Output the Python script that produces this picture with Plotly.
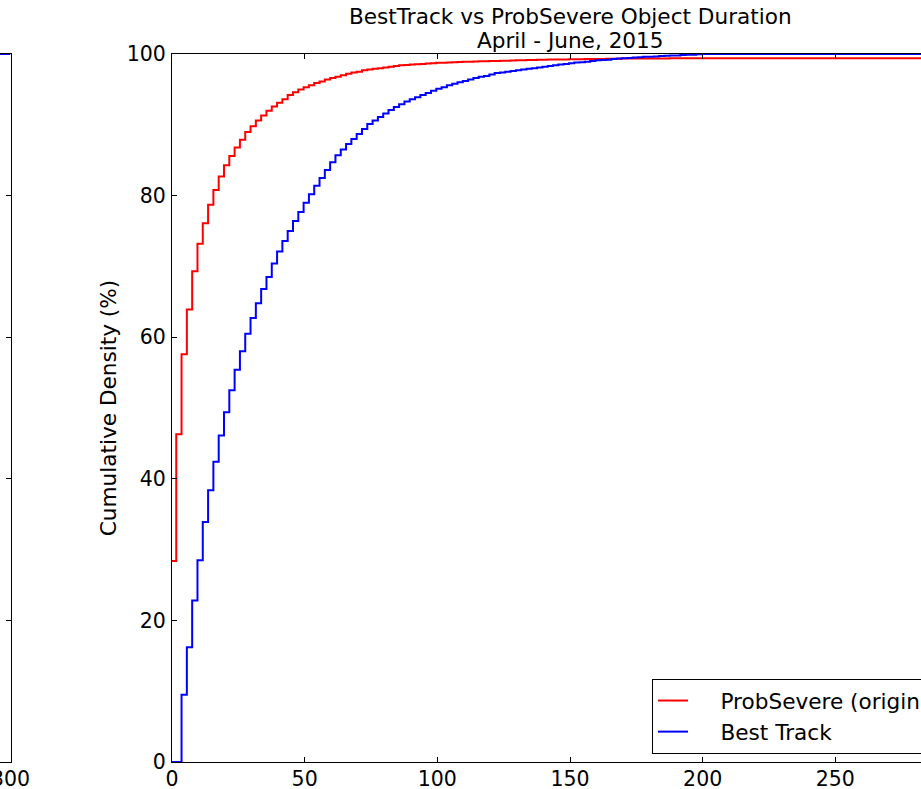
import plotly.graph_objects as go

# ---- data ----
step_x = [round(1.6 + 2 * k, 1) for k in range(100)]  # step positions (duration, min)

probsevere_start = 28.4
probsevere_y = [
    46.3, 57.6, 63.9, 69.3, 73.2, 76.1, 78.7, 80.8, 82.7, 84.3,
    85.6, 86.8, 87.9, 89.0, 89.8, 90.6, 91.3, 92.0, 92.6, 93.1,
    93.6, 94.2, 94.6, 95.0, 95.3, 95.6, 95.9, 96.1, 96.4, 96.6,
    96.8, 97.0, 97.2, 97.4, 97.5, 97.7, 97.8, 97.9, 98.0, 98.1,
    98.2, 98.3, 98.4, 98.45, 98.5, 98.55, 98.6, 98.65, 98.7, 98.75,
    98.78, 98.81, 98.84, 98.87, 98.9, 98.92, 98.94, 98.96, 98.98, 99.0,
    99.02, 99.04, 99.06, 99.08, 99.1, 99.12, 99.14, 99.16, 99.18, 99.2,
    99.21, 99.22, 99.23, 99.24, 99.25, 99.26, 99.27, 99.28, 99.29, 99.3,
    99.31, 99.32, 99.33, 99.34, 99.35, 99.35, 99.36, 99.36, 99.37, 99.37,
    99.38, 99.38, 99.38, 99.39, 99.39, 99.39, 99.4, 99.4, 99.4, 99.4,
]

besttrack_start = 0.0
besttrack_y = [
    0.0, 9.5, 16.2, 22.8, 28.5, 33.9, 38.4, 42.4, 46.1, 49.4,
    52.5, 55.4, 58.0, 60.5, 62.7, 64.8, 66.8, 68.5, 70.4, 72.1,
    73.6, 75.0, 76.4, 77.7, 79.0, 80.2, 81.4, 82.5, 83.6, 84.7,
    85.7, 86.5, 87.3, 88.0, 88.7, 89.4, 90.1, 90.6, 91.1, 91.6,
    92.1, 92.5, 92.9, 93.3, 93.6, 93.9, 94.2, 94.5, 94.8, 95.1,
    95.3, 95.6, 95.8, 96.0, 96.2, 96.4, 96.6, 96.8, 96.9, 97.1,
    97.3, 97.4, 97.5, 97.6, 97.7, 97.8, 97.9, 98.0, 98.1, 98.2,
    98.3, 98.4, 98.5, 98.6, 98.7, 98.8, 98.85, 98.9, 99.0, 99.1,
    99.15, 99.2, 99.3, 99.35, 99.4, 99.45, 99.5, 99.55, 99.6, 99.6,
    99.65, 99.7, 99.75, 99.8, 99.8, 99.85, 99.9, 99.9, 99.95, 100.0,
]

x_min, x_max = 0, 300
x_ticks = [0, 50, 100, 150, 200, 250, 300]
y_ticks = [0, 20, 40, 60, 80, 100]
title_lines = ["BestTrack vs ProbSevere Object Duration", "April - June, 2015"]
legend_names = ["ProbSevere (original)", "Best Track"]

# ---- layout geometry ----
W, H = 921, 789
left_px, top_px, bottom_px = 172, 54, 762
plot_h = bottom_px - top_px
px_per_unit = (968 - left_px) / (x_max - x_min)
x_view_max = (W - left_px) / px_per_unit

FONT = "DejaVu Sans"
TICK_SIZE = 20.5
TEXT_SIZE = 21.6
PAD = "\u00a0" * 4  # gap between legend line sample and its text

fig = go.Figure()

fx = [x_min] + step_x + [x_max]
fig.add_trace(go.Scatter(
    x=fx, y=[probsevere_start] + probsevere_y + [probsevere_y[-1]],
    mode="lines", line=dict(color="#ff0000", width=2, shape="hv"),
    name=PAD + legend_names[0], xaxis="x", yaxis="y"))
fig.add_trace(go.Scatter(
    x=fx, y=[besttrack_start] + besttrack_y + [besttrack_y[-1]],
    mode="lines", line=dict(color="#0000ff", width=2, shape="hv"),
    name=PAD + legend_names[1], xaxis="x", yaxis="y"))

# fragment of the neighbouring panel at the far left
fig.add_trace(go.Scatter(
    x=[290, 300], y=[100, 100], mode="lines",
    line=dict(color="#0000ff", width=2), showlegend=False,
    xaxis="x2", yaxis="y2", hoverinfo="skip"))

axis_common = dict(
    showline=True, linecolor="black", linewidth=1,
    ticks="inside", ticklen=5, tickcolor="black", tickwidth=1,
    showgrid=False, zeroline=False, automargin=False,
    tickfont=dict(family=FONT, size=TICK_SIZE, color="black"),
)

annotations = []
for line, y_px in zip(title_lines, [16, 41]):
    annotations.append(dict(
        text=line, xref="paper", yref="paper",
        x=570 / W, y=(bottom_px - y_px) / plot_h,
        xanchor="center", yanchor="middle", showarrow=False,
        font=dict(family=FONT, size=TEXT_SIZE, color="black")))

fig.update_layout(
    width=W, height=H,
    margin=dict(l=0, r=0, t=top_px, b=H - bottom_px, pad=0, autoexpand=False),
    paper_bgcolor="white", plot_bgcolor="white",
    font=dict(family=FONT, size=TEXT_SIZE, color="black"),
    xaxis=dict(domain=[left_px / W, 1], range=[x_min, x_view_max],
               tickvals=x_ticks, mirror="ticks", ticklabelstandoff=-2,
               **axis_common),
    yaxis=dict(domain=[0, 1], range=[0, 100], tickvals=y_ticks,
               mirror=False, ticklabelstandoff=1,
               title=dict(text="Cumulative Density (%)",
                          font=dict(family=FONT, size=TEXT_SIZE, color="black"),
                          standoff=4),
               **axis_common),
    xaxis2=dict(domain=[0, 10.5 / W], range=[300 - 10.5 / px_per_unit, 300.02],
                tickvals=x_ticks, mirror="ticks", anchor="y2",
                ticklabelstandoff=-2, ticklabeloverflow="allow", **axis_common),
    yaxis2=dict(domain=[0, 1], range=[0, 100], tickvals=y_ticks,
                side="right", anchor="x2", showticklabels=False,
                **{k: v for k, v in axis_common.items() if k != "tickfont"}),
    annotations=annotations,
    legend=dict(x=652 / W, xanchor="left",
                y=(bottom_px - 679) / plot_h, yanchor="top",
                bgcolor="white", bordercolor="black", borderwidth=1,
                font=dict(family=FONT, size=TEXT_SIZE, color="black"),
                itemwidth=30, tracegroupgap=0),
    showlegend=True,
)

fig.write_html("out.html",
               config={"displayModeBar": False},
               post_script="document.body.style.margin='0px';"
                           "document.body.style.overflow='hidden';")
